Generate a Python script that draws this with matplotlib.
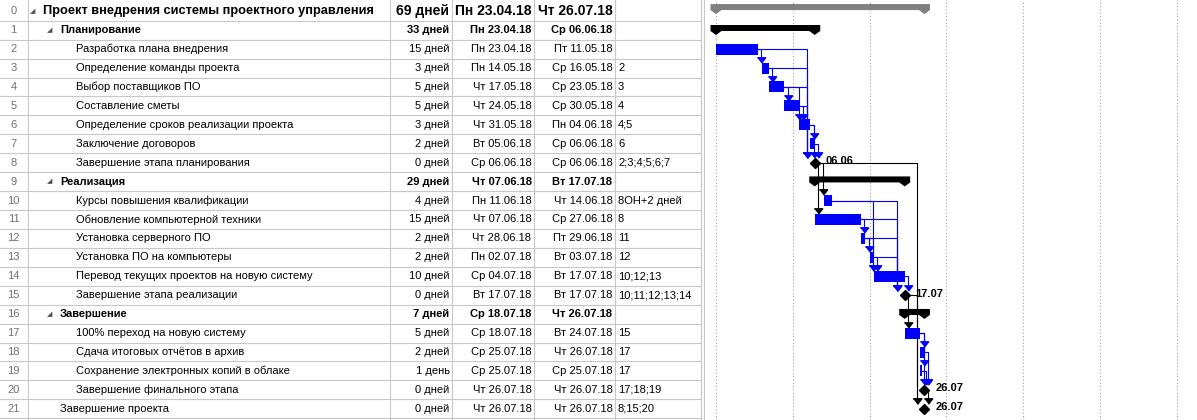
import matplotlib
matplotlib.use('Agg')
import matplotlib.pyplot as plt
import matplotlib.dates as mdates
from matplotlib.patches import Polygon
from datetime import datetime

plt.rcParams['font.family'] = ['Liberation Sans', 'DejaVu Sans']

# task table
names = ['Проект внедрения системы проектного управления', 'Планирование',
         'Разработка плана внедрения', 'Определение команды проекта',
         'Выбор поставщиков ПО', 'Составление сметы',
         'Определение сроков реализации проекта', 'Заключение договоров',
         'Завершение этапа планирования', 'Реализация',
         'Курсы повышения квалификации', 'Обновление компьютерной техники',
         'Установка серверного ПО', 'Установка ПО на компьютеры',
         'Перевод текущих проектов на новую систему', 'Завершение этапа реализации',
         'Завершение', '100% переход на новую систему',
         'Сдача итоговых отчётов в архив', 'Сохранение электронных копий в облаке',
         'Завершение финального этапа', 'Завершение проекта']
durations = ['69 дней', '33 дней', '15 дней', '3 дней', '5 дней', '5 дней', '3 дней',
             '2 дней', '0 дней', '29 дней', '4 дней', '15 дней', '2 дней', '2 дней',
             '10 дней', '0 дней', '7 дней', '5 дней', '2 дней', '1 день', '0 дней', '0 дней']
starts = ['23.04.18', '23.04.18', '23.04.18', '14.05.18', '17.05.18', '24.05.18', '31.05.18',
          '05.06.18', '06.06.18', '07.06.18', '11.06.18', '07.06.18', '28.06.18', '02.07.18',
          '04.07.18', '17.07.18', '18.07.18', '18.07.18', '25.07.18', '25.07.18', '26.07.18',
          '26.07.18']
finishes = ['26.07.18', '06.06.18', '11.05.18', '16.05.18', '23.05.18', '30.05.18', '04.06.18',
            '06.06.18', '06.06.18', '17.07.18', '14.06.18', '27.06.18', '29.06.18', '03.07.18',
            '17.07.18', '17.07.18', '26.07.18', '24.07.18', '26.07.18', '25.07.18', '26.07.18',
            '26.07.18']
predecessors = ['', '', '', '2', '3', '4', '4;5', '6', '2;3;4;5;6;7', '', '8ОН+2 дней', '8',
                '11', '12', '10;12;13', '10;11;12;13;14', '', '15', '17', '17', '17;18;19',
                '8;15;20']
levels = [0, 1, 2, 2, 2, 2, 2, 2, 2, 1, 2, 2, 2, 2, 2, 2, 1, 2, 2, 2, 2, 1]
summary_rows = [0, 1, 9, 16]

weekdays = ['Пн', 'Вт', 'Ср', 'Чт', 'Пт', 'Сб', 'Вс']


def parse(s):
    return datetime.strptime(s, '%d.%m.%y')


def with_day(s):
    return weekdays[parse(s).weekday()] + ' ' + s


def pred_ids(s):
    out = []
    for part in s.split(';'):
        num = ''
        for ch in part:
            if ch.isdigit():
                num += ch
            else:
                break
        if num:
            out.append(int(num))
    return out


# layout in pixels
W, H = 1197, 420
ROW_PX = 18.93
ROW0_PX = 1.8
TABLE_W = 706
PX_PER_DAY = 2.194
DAY0_PX = 716
BLUE = '#0000ff'
LINE_C = '#c8c8c8'

n = len(names)
ylim = ((H - ROW0_PX) / ROW_PX - 0.5, -ROW0_PX / ROW_PX - 0.5)

fig = plt.figure(figsize=(W / 100, H / 100), dpi=100)

# ---- table ----
tab = fig.add_axes([0, 0, TABLE_W / W, 1])
tab.set_xlim(0, TABLE_W)
tab.set_ylim(*ylim)
tab.axis('off')

for i in range(1, n + 1):
    tab.plot([0, 701], [i - 0.5, i - 0.5], color=LINE_C, lw=0.8)
for x in [27.7, 390, 452, 534, 615, 700.5, 703.5]:
    tab.axvline(x, color=LINE_C, lw=0.8)

name_x = {0: 43.3, 1: 60, 2: 76.5}
for i in range(n):
    bold = i in summary_rows
    fs = 10 if i == 0 else 8
    fw = 'bold' if bold else 'normal'
    tab.text(13.5, i, str(i), ha='center', va='center', color='#707070', fontsize=8)
    x = name_x[levels[i]]
    if bold:
        tab.text(x - 10.5, i, '◢', ha='center', va='center', color='#505050', fontsize=5)
    tab.text(x, i, names[i], ha='left', va='center', fontsize=9.2 if i == 0 else fs,
             fontweight=fw)
    tab.text(449.5, i, durations[i], ha='right', va='center', fontsize=fs, fontweight=fw)
    tab.text(531.5, i, with_day(starts[i]), ha='right', va='center', fontsize=fs, fontweight=fw)
    tab.text(612.5, i, with_day(finishes[i]), ha='right', va='center', fontsize=fs, fontweight=fw)
    tab.text(618, i, predecessors[i], ha='left', va='center', fontsize=8)

# ---- gantt ----
gantt = fig.add_axes([TABLE_W / W, 0, (W - TABLE_W) / W, 1])
gantt.set_ylim(*ylim)
d0 = mdates.date2num(parse(starts[0]))
xleft = d0 - (DAY0_PX - TABLE_W) / PX_PER_DAY
gantt.set_xlim(xleft, xleft + (W - TABLE_W) / PX_PER_DAY)
gantt.set_xticks([d0 + 35 * k for k in range(7)])
gantt.grid(axis='x', color='#a0a0a0', linestyle=(0, (1, 2)), lw=0.8)
gantt.tick_params(length=0, labelbottom=False, labelleft=False)
for sp in gantt.spines.values():
    sp.set_visible(False)


def px2d(px):
    return px / PX_PER_DAY


def px2r(px):
    return px / ROW_PX


start_num = [mdates.date2num(parse(s)) for s in starts]
end_num = [mdates.date2num(parse(f)) + 1 for f in finishes]
milestone = [d.startswith('0 ') for d in durations]
plain = [i for i in range(n) if not milestone[i] and i not in summary_rows]

arrow = [(-1, 0.65), (1, 0.65), (0, -0.65)]

# links
for r in range(n):
    for p in pred_ids(predecessors[r]):
        c = 'black' if milestone[p] else BLUE
        xs = end_num[p] + (px2d(5) if milestone[p] else 0)
        beff = end_num[r] - px2d(7.5) if milestone[r] else start_num[r] - px2d(0.8)
        drop = max(end_num[p] + px2d(3.5), beff)
        ytop = r - px2r(5 if milestone[r] else 5.5)
        gantt.plot([xs, drop, drop], [p, p, ytop - px2r(4)], color=c, lw=0.8, zorder=2)
        gantt.plot(drop, ytop - px2r(2.7), marker=arrow, ms=6, color=c, lw=0, zorder=3)

# task bars
gantt.barh(plain, [end_num[i] - start_num[i] for i in plain],
           left=[start_num[i] for i in plain], height=px2r(11), color=BLUE, zorder=4)

# summary bars
for i in summary_rows:
    s, e = start_num[i], end_num[i]
    h = px2d(5.5)
    shift = -2 if i == 0 else 0
    top = i + px2r(-5.2 + shift)
    bot = i + px2r(0.8 + shift)
    tip = i + px2r(4.8 + shift)
    verts = [(s - h, top), (e + h, top), (e + h, bot), (e, tip), (e - h, bot),
             (s + h, bot), (s, tip), (s - h, bot)]
    gantt.add_patch(Polygon(verts, closed=True, color='#808080' if i == 0 else 'black',
                            lw=0, zorder=4))

# milestones
for i in range(n):
    if milestone[i]:
        gantt.plot(end_num[i], i, marker='D', ms=5.5, color='black', lw=0, zorder=5)
        gantt.text(end_num[i] + px2d(11), i - px2r(1.5), finishes[i][:5], ha='left',
                   va='center', fontsize=8, fontweight='bold')

fig.savefig('out.png', dpi=100)
